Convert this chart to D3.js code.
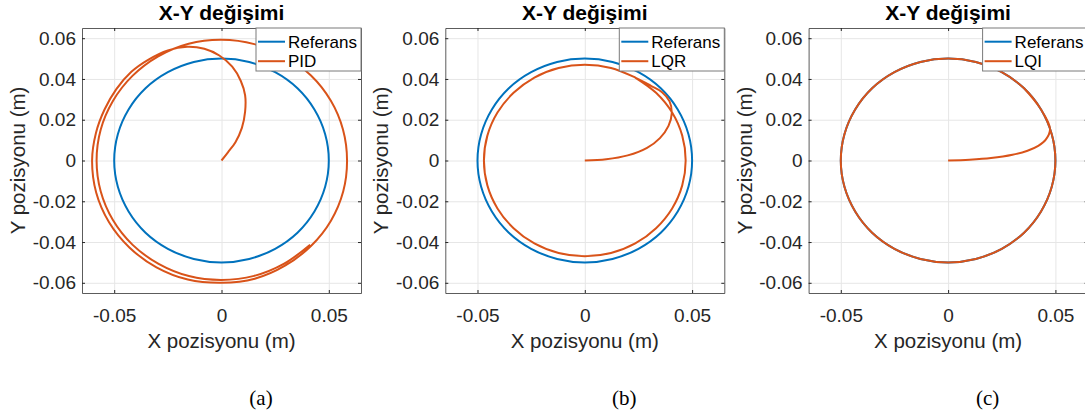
<!DOCTYPE html>
<html>
<head>
<meta charset="utf-8">
<script src="https://cdn.jsdelivr.net/npm/d3@7"></script>
<style>
  body { margin: 0; background: #fff; }
  svg { display: block; }
</style>
</head>
<body>
<div id="wrapper"></div>
<script>
// tick values
const xTicks = [-0.05, 0, 0.05];
const yTicks = [-0.06, -0.04, -0.02, 0, 0.02, 0.04, 0.06];

// panel texts
const controllers = ["PID", "LQR", "LQI"];
const subLabels = ["(a)", "(b)", "(c)"];

// reference circle (r = 0.05), read every 15 degrees
const refX = [0.05, 0.0483, 0.0433, 0.0354, 0.025, 0.0129, 0, -0.0129, -0.025, -0.0354, -0.0433, -0.0483,
              -0.05, -0.0483, -0.0433, -0.0354, -0.025, -0.0129, 0, 0.0129, 0.025, 0.0354, 0.0433, 0.0483];
const refY = [0, 0.0129, 0.025, 0.0354, 0.0433, 0.0483, 0.05, 0.0483, 0.0433, 0.0354, 0.025, 0.0129,
              0, -0.0129, -0.025, -0.0354, -0.0433, -0.0483, -0.05, -0.0483, -0.0433, -0.0354, -0.025, -0.0129];

// PID trajectory
const pidX = [0, 0.003, 0.0065, 0.0095, 0.011, 0.011, 0.009, 0.005, -0.001, -0.008,
              -0.016, -0.025, -0.034, -0.042, -0.049, -0.0545, -0.0585, -0.0603,
              -0.0584, -0.0524, -0.0428, -0.0303, -0.0157, 0,
              0.0155, 0.0298, 0.0418, 0.0510, 0.0567, 0.0585,
              0.0566, 0.0509, 0.0417, 0.0295, 0.0153, 0,
              -0.0153, -0.0295, -0.0415, -0.0506, -0.0563, -0.0582,
              -0.0563, -0.0506, -0.0414, -0.0293, -0.0152, 0,
              0.0152, 0.0292, 0.0413];
const pidY = [0, 0.004, 0.009, 0.016, 0.024, 0.032, 0.039, 0.046, 0.0515, 0.0548,
              0.0558, 0.054, 0.0495, 0.0435, 0.035, 0.025, 0.0135, 0,
              -0.0157, -0.0303, -0.0428, -0.0524, -0.0584, -0.0600,
              -0.0580, -0.0515, -0.0418, -0.0295, -0.0152, 0,
              0.0152, 0.0294, 0.0417, 0.0511, 0.0571, 0.0592,
              0.0573, 0.0511, 0.0415, 0.0292, 0.0151, 0,
              -0.0151, -0.0292, -0.0414, -0.0507, -0.0567, -0.0586,
              -0.0566, -0.0506, -0.0413];

// LQR trajectory
const lqrX = [0, 0.01, 0.02, 0.029, 0.035, 0.039, 0.0405, 0.0395, 0.036, 0.031,
              0.0235, 0.0122, 0, -0.0122, -0.0235, -0.0332, -0.0407, -0.0454,
              -0.047, -0.0454, -0.0407, -0.0332, -0.0235, -0.0122,
              0, 0.0122, 0.0235, 0.0332, 0.0407, 0.0454,
              0.047, 0.0454, 0.0407, 0.0332, 0.0235];
const lqrY = [0, 0.0006, 0.0025, 0.0062, 0.011, 0.017, 0.023, 0.029, 0.0335, 0.0365,
              0.0407, 0.0454, 0.047, 0.0454, 0.0407, 0.0332, 0.0235, 0.0122,
              0, -0.0122, -0.0235, -0.0332, -0.0407, -0.0454,
              -0.047, -0.0454, -0.0407, -0.0332, -0.0235, -0.0122,
              0, 0.0122, 0.0235, 0.0332, 0.0407];

// LQI trajectory
const lqiX = [0, 0.01, 0.02, 0.03, 0.037, 0.042, 0.0455, 0.0475,
              0.0433, 0.0354, 0.025, 0.0129, 0, -0.0129, -0.025, -0.0354, -0.0433, -0.0483,
              -0.05, -0.0483, -0.0433, -0.0354, -0.025, -0.0129,
              0, 0.0129, 0.025, 0.0354, 0.0433, 0.0483,
              0.05, 0.0483, 0.0433, 0.0354];
const lqiY = [0, 0.0004, 0.0012, 0.0028, 0.0048, 0.0072, 0.0102, 0.0155,
              0.025, 0.0354, 0.0433, 0.0483, 0.05, 0.0483, 0.0433, 0.0354, 0.025, 0.0129,
              0, -0.0129, -0.025, -0.0354, -0.0433, -0.0483,
              -0.05, -0.0483, -0.0433, -0.0354, -0.025, -0.0129,
              0, 0.0129, 0.025, 0.0354];

const series = [[pidX, pidY], [lqrX, lqrY], [lqiX, lqiY]];

const drawCharts = () => {

  //1. dimensions
  const dimensions = {
    width: 1085,
    height: 418,
    left: 82,
    step: 363.3,
    top: 28,
    plotWidth: 279,
    plotHeight: 265
  };

  const blue = "#0072BD";
  const orange = "#D95319";
  const axisColor = "#262626";
  const font = "'Liberation Sans', Arial, Helvetica, sans-serif";

  //2. canvas
  const svg = d3.select("#wrapper")
    .append("svg")
    .attr("width", dimensions.width)
    .attr("height", dimensions.height);

  //3. scales
  const xScale = d3.scaleLinear()
    .domain([-0.065, 0.065])
    .range([0, dimensions.plotWidth]);

  const yScale = d3.scaleLinear()
    .domain([-0.065, 0.065])
    .range([dimensions.plotHeight, 0]);

  const pathLine = d3.line()
    .x(d => xScale(d[0]))
    .y(d => yScale(d[1]))
    .curve(d3.curveCatmullRom.alpha(0.5));

  const closedLine = d3.line()
    .x(d => xScale(d[0]))
    .y(d => yScale(d[1]))
    .curve(d3.curveCatmullRomClosed.alpha(0.5));

  const refPoints = refX.map((x, i) => [x, refY[i]]);
  const tickFormat = d => d === 0 ? "0" : String(d);

  controllers.forEach((name, i) => {
    const g = svg.append("g")
      .attr("transform", `translate(${dimensions.left + i * dimensions.step}, ${dimensions.top})`);

    g.append("clipPath").attr("id", "clip" + i)
      .append("rect")
      .attr("width", dimensions.plotWidth)
      .attr("height", dimensions.plotHeight);

    g.append("rect")
      .attr("width", dimensions.plotWidth)
      .attr("height", dimensions.plotHeight)
      .attr("fill", "#fff");

    // grid
    const xGrid = g.append("g")
      .attr("transform", `translate(0, ${dimensions.plotHeight})`)
      .call(d3.axisBottom(xScale).tickValues(xTicks).tickSize(-dimensions.plotHeight).tickFormat(""));
    const yGrid = g.append("g")
      .call(d3.axisLeft(yScale).tickValues(yTicks).tickSize(-dimensions.plotWidth).tickFormat(""));
    [xGrid, yGrid].forEach(a => {
      a.select(".domain").remove();
      a.selectAll("line").attr("stroke", "#e6e6e6").attr("stroke-width", 1);
    });

    // data
    const plot = g.append("g").attr("clip-path", `url(#clip${i})`);
    plot.append("path")
      .attr("d", closedLine(refPoints))
      .attr("fill", "none")
      .attr("stroke", blue)
      .attr("stroke-width", 2);

    const [sx, sy] = series[i];
    plot.append("path")
      .attr("d", pathLine(sx.map((x, j) => [x, sy[j]])))
      .attr("fill", "none")
      .attr("stroke", orange)
      .attr("stroke-width", 2);

    // axes
    const xAxis = g.append("g")
      .attr("transform", `translate(0, ${dimensions.plotHeight})`)
      .call(d3.axisBottom(xScale).tickValues(xTicks).tickSize(-3).tickSizeOuter(0)
        .tickPadding(15.5).tickFormat(tickFormat));
    const xTop = g.append("g")
      .call(d3.axisTop(xScale).tickValues(xTicks).tickSize(-3).tickSizeOuter(0).tickFormat(""));
    const yAxis = g.append("g")
      .call(d3.axisLeft(yScale).tickValues(yTicks).tickSize(-3).tickSizeOuter(0)
        .tickPadding(6).tickFormat(tickFormat));
    const yRight = g.append("g")
      .attr("transform", `translate(${dimensions.plotWidth}, 0)`)
      .call(d3.axisRight(yScale).tickValues(yTicks).tickSize(-3).tickSizeOuter(0).tickFormat(""));

    [xAxis, xTop, yAxis, yRight].forEach(a => {
      a.select(".domain").attr("stroke", axisColor).attr("stroke-opacity", 0.75);
      a.selectAll(".tick line").attr("stroke", axisColor);
      a.selectAll("text")
        .attr("fill", axisColor)
        .style("font-family", font)
        .style("font-size", "19px");
    });

    // title
    g.append("text")
      .attr("x", dimensions.plotWidth / 2)
      .attr("y", -8)
      .attr("text-anchor", "middle")
      .style("font-family", font)
      .style("font-size", "21px")
      .style("font-weight", "bold")
      .attr("fill", "#000")
      .text("X-Y değişimi");

    // axis labels
    g.append("text")
      .attr("x", dimensions.plotWidth / 2)
      .attr("y", 320)
      .attr("text-anchor", "middle")
      .style("font-family", font)
      .style("font-size", "20.5px")
      .attr("fill", axisColor)
      .text("X pozisyonu (m)");

    g.append("text")
      .attr("transform", "rotate(-90)")
      .attr("x", -dimensions.plotHeight / 2)
      .attr("y", -57)
      .attr("text-anchor", "middle")
      .style("font-family", font)
      .style("font-size", "20.5px")
      .attr("fill", axisColor)
      .text("Y pozisyonu (m)");

    // legend
    const legendLeft = dimensions.plotWidth - 105;
    const legend = g.append("g").attr("transform", `translate(${legendLeft}, 0)`);
    legend.append("rect")
      .attr("width", 105)
      .attr("height", 43)
      .attr("fill", "#fff")
      .attr("stroke", "#7a7a7a")
      .attr("stroke-width", 1);

    [["Referans", blue], [name, orange]].forEach(([label, color], k) => {
      const yRow = 13.7 + k * 19.5;
      legend.append("line")
        .attr("x1", 2).attr("x2", 29)
        .attr("y1", yRow).attr("y2", yRow)
        .attr("stroke", color)
        .attr("stroke-width", 2);
      legend.append("text")
        .attr("x", 32)
        .attr("y", yRow)
        .attr("dy", "0.35em")
        .style("font-family", font)
        .style("font-size", "17px")
        .attr("fill", "#000")
        .text(label);
    });

    // sub label
    g.append("text")
      .attr("x", 179)
      .attr("y", 377)
      .attr("text-anchor", "middle")
      .style("font-family", "'Liberation Serif', 'DejaVu Serif', serif")
      .style("font-size", "21px")
      .attr("fill", "#000")
      .text(subLabels[i]);
  });
}

drawCharts()
</script>
</body>
</html>
